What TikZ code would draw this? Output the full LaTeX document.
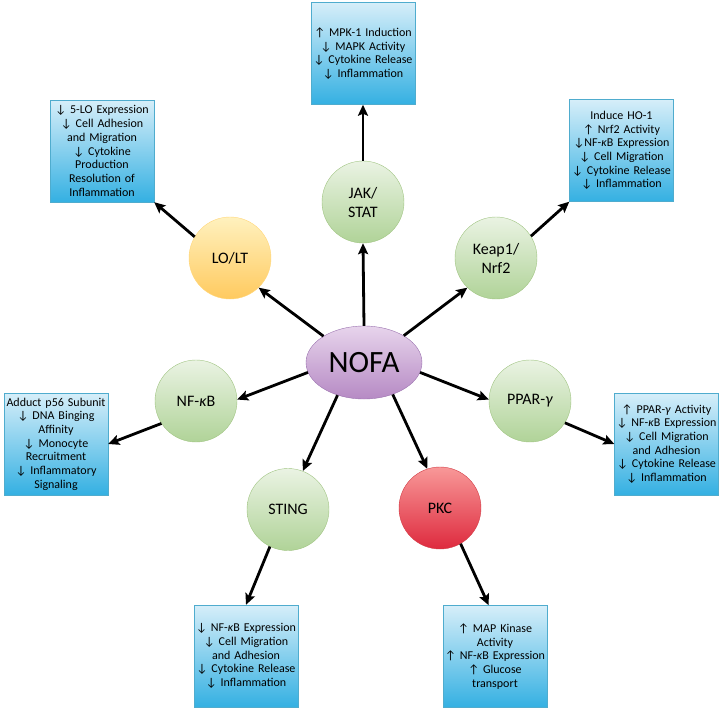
\documentclass[tikz,border=0pt]{standalone}
\usepackage{fontspec}
\setmainfont{Carlito}
\usetikzlibrary{arrows.meta,shapes.geometric}

% colours
\definecolor{boxtop}{RGB}{214,238,249}
\definecolor{boxbot}{RGB}{52,176,226}
\definecolor{boxline}{RGB}{79,172,206}
\definecolor{grtop}{RGB}{234,243,227}
\definecolor{grbot}{RGB}{176,211,152}
\definecolor{grline}{RGB}{160,196,130}
\definecolor{yetop}{RGB}{255,241,190}
\definecolor{yebot}{RGB}{255,202,95}
\definecolor{yeline}{RGB}{255,214,120}
\definecolor{rdtop}{RGB}{248,152,152}
\definecolor{rdbot}{RGB}{222,42,62}
\definecolor{rdline}{RGB}{210,60,70}
\definecolor{putop}{RGB}{231,212,236}
\definecolor{pubot}{RGB}{182,138,196}
\definecolor{puline}{RGB}{155,115,175}

\newcommand{\incr}{↑}
\newcommand{\decr}{↓}
\newcommand{\kap}{\textit{κ}}

\begin{document}
\begin{tikzpicture}[x=1pt, y=-1pt,
    pathway/.style={circle, minimum size=82pt, inner sep=1pt, align=center, font=\fontsize{16}{19}\selectfont, draw=grline, top color=grtop, bottom color=grbot},
    effect/.style={rectangle, minimum width=104pt, minimum height=102pt, text width=101pt, inner sep=1.5pt, align=center, font=\fontsize{12}{13.7}\selectfont, draw=boxline, top color=boxtop, bottom color=boxbot},
    link/.style={line width=2.8pt, -{Stealth[length=11pt, width=10pt, inset=2pt]}}]
	\useasboundingbox (0,0) rectangle (724,710);
	
	% ==================== centre ====================
	\node[ellipse, minimum width=116pt, minimum height=73pt, inner sep=0pt, draw=puline, top color=putop, bottom color=pubot, font=\fontsize{31}{36}\selectfont] (nofa) at (364,362.5) {NOFA};
	
	% ==================== pathways ====================
	\node[pathway] (jak) at (363,202) {JAK/\\STAT};
	\node[pathway, draw=yeline, top color=yetop, bottom color=yebot] (lolt) at (230,258) {LO/LT};
	\node[pathway] (keap) at (496,258) {Keap1/\\Nrf2};
	\node[pathway] (nfkb) at (196,401) {NF-\kap B};
	\node[pathway] (ppar) at (530,401) {PPAR-\textit{γ}};
	\node[pathway] (sting) at (288,509.5) {STING};
	\node[pathway, draw=rdline, top color=rdtop, bottom color=rdbot] (pkc) at (440,508) {PKC};
	
	% ==================== effects ====================
	\node[effect] (jakbox) at (363,53.5) {\incr{} MPK-1 Induction\\\decr{} MAPK Activity\\\decr{} Cytokine Release\\\decr{} Inflammation};
	\node[effect] (loltbox) at (102,151) {\decr{} 5-LO Expression\\\decr{} Cell Adhesion\\and Migration\\\decr{} Cytokine\\Production\\Resolution of\\Inflammation};
	\node[effect] (keapbox) at (621.5,150.5) {Induce HO-1\\\incr{} Nrf2 Activity\\\decr{}NF-\kap B Expression\\\decr{} Cell Migration\\\decr{} Cytokine Release\\\decr{} Inflammation};
	\node[effect] (nfkbbox) at (56,444) {Adduct p56 Subunit\\\decr{} DNA Binging\\Affinity\\\decr{} Monocyte\\Recruitment\\\decr{} Inflammatory\\Signaling};
	\node[effect] (pparbox) at (666.5,444) {\incr{} PPAR-\textit{γ} Activity\\\decr{} NF-\kap B Expression\\\decr{} Cell Migration\\and Adhesion\\\decr{} Cytokine Release\\\decr{} Inflammation};
	\node[effect] (stingbox) at (246,656) {\decr{} NF-\kap B Expression\\\decr{} Cell Migration\\and Adhesion\\\decr{} Cytokine Release\\\decr{} Inflammation};
	\node[effect] (pkcbox) at (495,656.5) {\incr{} MAP Kinase\\Activity\\\incr{} NF-\kap B Expression\\\incr{} Glucose\\transport\\[8pt]};
	
	% ==================== arrows ====================
	\draw[link] (nofa.north) -- (jak.south);
	\draw[link] (nofa.147) -- (lolt.314);
	\draw[link] (nofa.34) -- (keap.226);
	\draw[link] (nofa.190) -- (nfkb.2);
	\draw[link] (nofa.350) -- (ppar.178);
	\draw[link] (nofa.231) -- (sting.69);
	\draw[link] (nofa.312) -- (pkc.108);
	
	\draw[link] (jak.north) -- (jakbox.south);
	\draw[link] (lolt.149) -- (loltbox.south east);
	\draw[link] (keap.32) -- (keapbox.south west);
	\draw[link] (nfkb.213) -- (nfkbbox.east);
	\draw[link] (ppar.328) -- (pparbox.west);
	\draw[link] (sting.244) -- (stingbox.north);
	\draw[link] (pkc.300) -- (pkcbox.97);
\end{tikzpicture}
\end{document}
